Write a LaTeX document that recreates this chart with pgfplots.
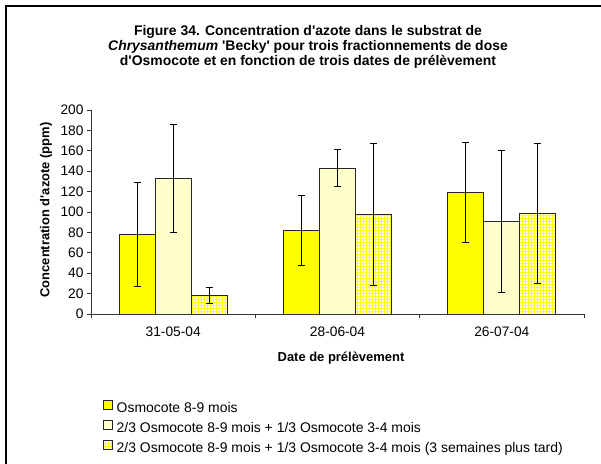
\documentclass[border=0pt]{standalone}
\usepackage{fontspec}
\setmainfont{Liberation Sans}[Ligatures=TeXOff]
\usepackage{pgfplots}
\pgfplotsset{compat=1.18}
\usetikzlibrary{patterns.meta}

\definecolor{xlyellow}{RGB}{255,255,0}
\definecolor{paleyellow}{RGB}{255,255,204}

\begin{document}
\begin{tikzpicture}[x=1bp,y=1bp]
\path[use as bounding box] (0,0) rectangle (601,464);
% frame of the chart area (cropped)
\draw[line width=2.2bp] (6,0) -- (6,458) -- (601,458);

\begin{axis}[
    at={(91bp,150bp)}, anchor=south west,
    scale only axis,
    width=493bp, height=204bp,
    ybar=0pt, bar width=36bp,
    xmin=0.5, xmax=3.5,
    ymin=0, ymax=200,
    ytick={0,20,...,200},
    xtick={1,2,3},
    xticklabels={31-05-04,28-06-04,26-07-04},
    minor xtick={0.5,1.5,2.5,3.5},
    major x tick style={draw=none},
    minor tick length=4bp,
    major tick length=4bp,
    tick align=outside,
    axis lines*=left,
    axis line style={black!80, line width=0.7bp},
    tick style={black!80, line width=0.7bp},
    /pgf/number format/assume math mode=true,
    tick label style={font=\fontsize{13.8}{15}\selectfont},
    xticklabel style={yshift=-5bp},
    every axis plot/.append style={draw=black!85, line width=0.7bp},
    error bars/error bar style={black, line width=0.7bp},
    error bars/error mark options={rotate=90, mark size=3.5bp, black, line width=0.7bp},
    legend style={at={(0.0243,-0.424)}, anchor=north west, draw=none, fill=none,
        inner sep=0pt, outer sep=0pt,
        font=\fontsize{14}{16}\selectfont, row sep=5bp,
        nodes={inner sep=0pt, text height=10bp, text depth=3bp},
        /tikz/every odd column/.append style={column sep=4bp}},
    legend cell align=left,
    legend image code/.code={\draw[#1] (0bp,-1bp) rectangle (9bp,8bp);},
]

\addplot[fill=xlyellow, error bars/.cd, y dir=both, y explicit] coordinates {
    (1,78) +- (0,51)
    (2,82) +- (0,34)
    (3,119) +- (0,49)
};
\addlegendentry{Osmocote 8-9 mois}

\addplot[fill=paleyellow, error bars/.cd, y dir=both, y explicit] coordinates {
    (1,133) +- (0,53)
    (2,143) +- (0,18)
    (3,91) +- (0,69.5)
};
\addlegendentry{2/3 Osmocote 8-9 mois + 1/3 Osmocote 3-4 mois}

\addplot[fill=yellow!12,
    postaction={pattern={Hatch[angle=0,distance=3bp,line width=0.8bp]}, pattern color=xlyellow},
    error bars/.cd, y dir=both, y explicit] coordinates {
    (1,18) +- (0,8)
    (2,98) +- (0,69.5)
    (3,99) +- (0,68.5)
};
\addlegendentry{2/3 Osmocote 8-9 mois + 1/3 Osmocote 3-4 mois (3 semaines plus tard)}

\end{axis}

\node[align=center, font=\bfseries\fontsize{14}{15}\selectfont] at (308,417)
    {Figure 34. Concentration d'azote dans le substrat de\\
     \textit{Chrysanthemum} 'Becky' pour trois fractionnements de dose\\
     d'Osmocote et en fonction de trois dates de prélèvement};
\node[rotate=90, font=\bfseries\fontsize{13}{14}\selectfont] at (46,254)
    {Concentration d'azote (ppm)};
\node[font=\bfseries\fontsize{13}{14}\selectfont] at (341,106)
    {Date de prélèvement};
\end{tikzpicture}
\end{document}
